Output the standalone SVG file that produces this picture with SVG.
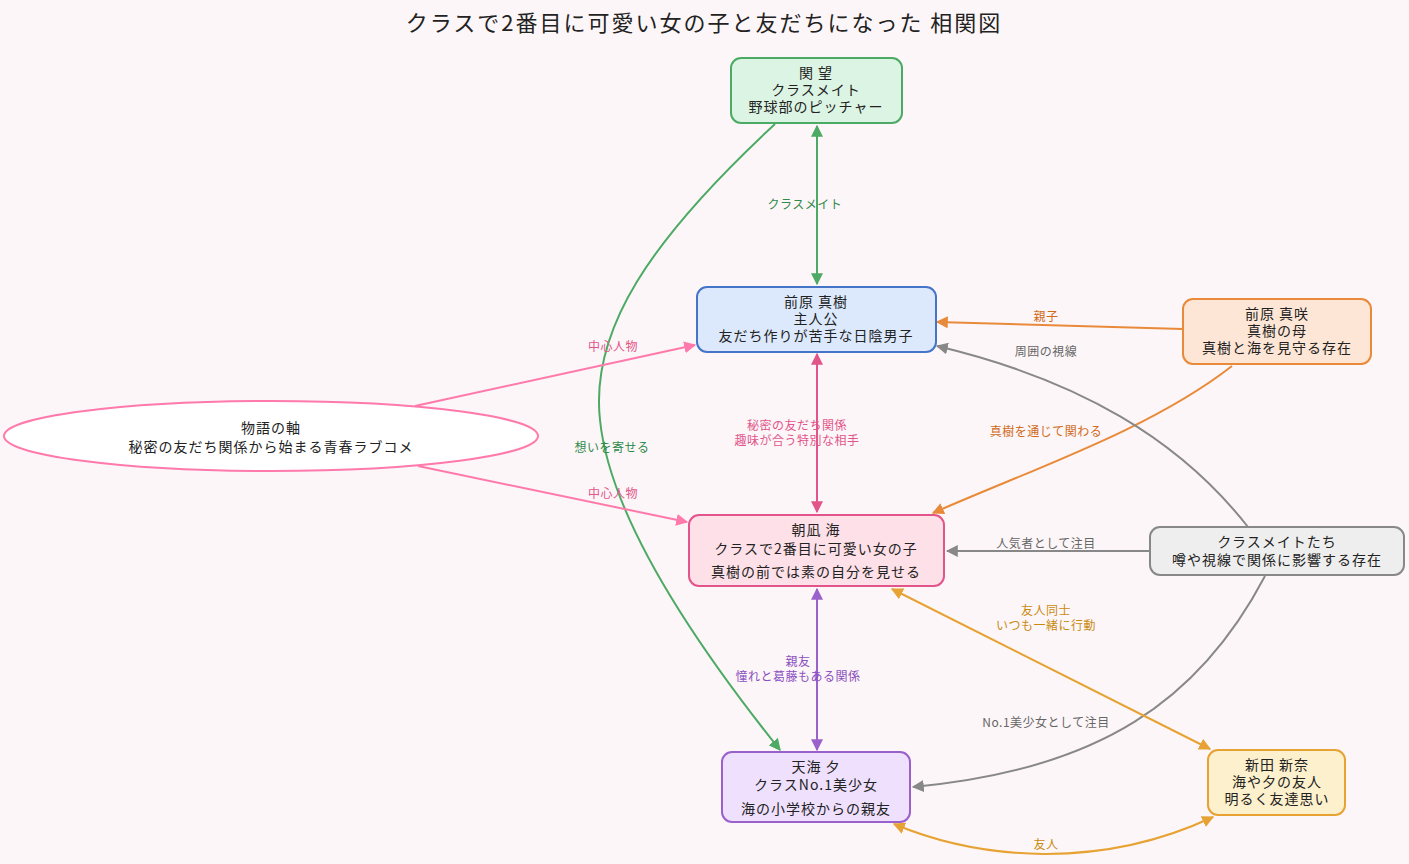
<svg xmlns="http://www.w3.org/2000/svg" width="1409" height="864" viewBox="0 0 1409 864">
<style>
text{font-family:"Noto Sans CJK JP","Noto Sans",sans-serif;text-anchor:middle}
.n{font-size:14px;fill:#222;letter-spacing:1px}
.l{font-size:12px;letter-spacing:0.5px}
.c path{fill:none;stroke-width:2}
</style>
<defs>
<marker id="ag" viewBox="0 0 10 10" refX="9" refY="5" markerWidth="6" markerHeight="6" orient="auto-start-reverse"><path d="M0,0L10,5L0,10z" fill="#4caa64"/></marker>
<marker id="ab" viewBox="0 0 10 10" refX="9" refY="5" markerWidth="6" markerHeight="6" orient="auto-start-reverse"><path d="M0,0L10,5L0,10z" fill="#e2558a"/></marker>
<marker id="ap" viewBox="0 0 10 10" refX="9" refY="5" markerWidth="6" markerHeight="6" orient="auto-start-reverse"><path d="M0,0L10,5L0,10z" fill="#ff79aa"/></marker>
<marker id="ao" viewBox="0 0 10 10" refX="9" refY="5" markerWidth="6" markerHeight="6" orient="auto-start-reverse"><path d="M0,0L10,5L0,10z" fill="#e88a3a"/></marker>
<marker id="ay" viewBox="0 0 10 10" refX="9" refY="5" markerWidth="6" markerHeight="6" orient="auto-start-reverse"><path d="M0,0L10,5L0,10z" fill="#e6a232"/></marker>
<marker id="ax" viewBox="0 0 10 10" refX="9" refY="5" markerWidth="6" markerHeight="6" orient="auto-start-reverse"><path d="M0,0L10,5L0,10z" fill="#888"/></marker>
<marker id="av" viewBox="0 0 10 10" refX="9" refY="5" markerWidth="6" markerHeight="6" orient="auto-start-reverse"><path d="M0,0L10,5L0,10z" fill="#9a60cc"/></marker>
</defs>
<rect width="1409" height="864" fill="#fdf6f8"/>
<text x="704" y="31" style="font-size:22px;letter-spacing:2px" fill="#222">クラスで2番目に可愛い女の子と友だちになった 相関図</text>
<g class="c">
<path d="M817,126V284" stroke="#4caa64" marker-start="url(#ag)" marker-end="url(#ag)"/>
<path d="M775,124C650,240 590,330 600,420C610,520 700,650 780,750" stroke="#4caa64" marker-end="url(#ag)"/>
<path d="M817,354V512" stroke="#e2558a" marker-start="url(#ab)" marker-end="url(#ab)"/>
<path d="M415,406L695,345" stroke="#ff79aa" marker-end="url(#ap)"/>
<path d="M418,466L687,522" stroke="#ff79aa" marker-end="url(#ap)"/>
<path d="M1183,329L937,322" stroke="#e88a3a" marker-end="url(#ao)"/>
<path d="M1232,366C1150,430 1030,470 933,513" stroke="#e88a3a" marker-end="url(#ao)"/>
<path d="M1248,527C1180,440 1080,380 937,346" stroke="#888" marker-end="url(#ax)"/>
<path d="M1150,551H947" stroke="#888" marker-end="url(#ax)"/>
<path d="M1265,576C1200,700 1100,770 913,787" stroke="#888" marker-end="url(#ax)"/>
<path d="M817,589V750" stroke="#9a60cc" marker-start="url(#av)" marker-end="url(#av)"/>
<path d="M892,589L1210,749" stroke="#e6a232" marker-start="url(#ay)" marker-end="url(#ay)"/>
<path d="M894,824C980,860 1100,870 1213,817" stroke="#e6a232" marker-start="url(#ay)" marker-end="url(#ay)"/>
</g>
<g class="l">
<text x="805" y="209" fill="#2f8a4a">クラスメイト</text>
<text x="612" y="452" fill="#2f8a4a">想いを寄せる</text>
<text x="797" y="430" fill="#e2558a">秘密の友だち関係</text>
<text x="797" y="445" fill="#e2558a">趣味が合う特別な相手</text>
<text x="613" y="351" fill="#e2558a">中心人物</text>
<text x="613" y="498" fill="#e2558a">中心人物</text>
<text x="1046" y="321" fill="#d06a1a">親子</text>
<text x="1046" y="436" fill="#d06a1a">真樹を通じて関わる</text>
<text x="1046" y="356" fill="#666">周囲の視線</text>
<text x="1046" y="548" fill="#666">人気者として注目</text>
<text x="1046" y="727" fill="#666">No.1美少女として注目</text>
<text x="798" y="666" fill="#8a4fc0">親友</text>
<text x="798" y="681" fill="#8a4fc0">憧れと葛藤もある関係</text>
<text x="1046" y="615" fill="#c98a10">友人同士</text>
<text x="1046" y="630" fill="#c98a10">いつも一緒に行動</text>
<text x="1046" y="849" fill="#c98a10">友人</text>
</g>
<g id="seki"><rect x="731" y="58" width="171" height="65" rx="10" fill="#dcf4e3" stroke="#4caa64" stroke-width="2"/>
<text class="n" x="816" y="78">関 望</text><text class="n" x="816" y="95">クラスメイト</text><text class="n" x="816" y="112">野球部のピッチャー</text></g>
<g id="maki"><rect x="697" y="287" width="239" height="65" rx="10" fill="#dce9fd" stroke="#4574c8" stroke-width="2"/>
<text class="n" x="816" y="307">前原 真樹</text><text class="n" x="816" y="324">主人公</text><text class="n" x="816" y="341">友だち作りが苦手な日陰男子</text></g>
<g id="misaki"><rect x="1183" y="299" width="188" height="65" rx="10" fill="#fde6d6" stroke="#e88a3a" stroke-width="2"/>
<text class="n" x="1277" y="319">前原 真咲</text><text class="n" x="1277" y="336">真樹の母</text><text class="n" x="1277" y="353">真樹と海を見守る存在</text></g>
<g id="axis"><ellipse cx="271" cy="436" rx="267" ry="35" fill="#fff" stroke="#ff79aa" stroke-width="2"/>
<text class="n" x="271" y="433">物語の軸</text><text class="n" x="271" y="452">秘密の友だち関係から始まる青春ラブコメ</text></g>
<g id="umi"><rect x="689" y="515" width="255" height="71" rx="10" fill="#fde0e8" stroke="#e2558a" stroke-width="2"/>
<text class="n" x="816" y="535">朝凪 海</text><text class="n" x="816" y="554">クラスで2番目に可愛い女の子</text><text class="n" x="816" y="577">真樹の前では素の自分を見せる</text></g>
<g id="class"><rect x="1150" y="527" width="254" height="48" rx="10" fill="#eeeeee" stroke="#888" stroke-width="2"/>
<text class="n" x="1277" y="547">クラスメイトたち</text><text class="n" x="1277" y="565">噂や視線で関係に影響する存在</text></g>
<g id="yu"><rect x="722" y="752" width="188" height="70" rx="10" fill="#efe0fd" stroke="#9a60cc" stroke-width="2"/>
<text class="n" x="816" y="772">天海 夕</text><text class="n" x="816" y="790">クラスNo.1美少女</text><text class="n" x="816" y="814">海の小学校からの親友</text></g>
<g id="nina"><rect x="1208" y="750" width="137" height="65" rx="10" fill="#fdf0cc" stroke="#e6a232" stroke-width="2"/>
<text class="n" x="1277" y="770">新田 新奈</text><text class="n" x="1277" y="787">海や夕の友人</text><text class="n" x="1277" y="804">明るく友達思い</text></g>
</svg>
